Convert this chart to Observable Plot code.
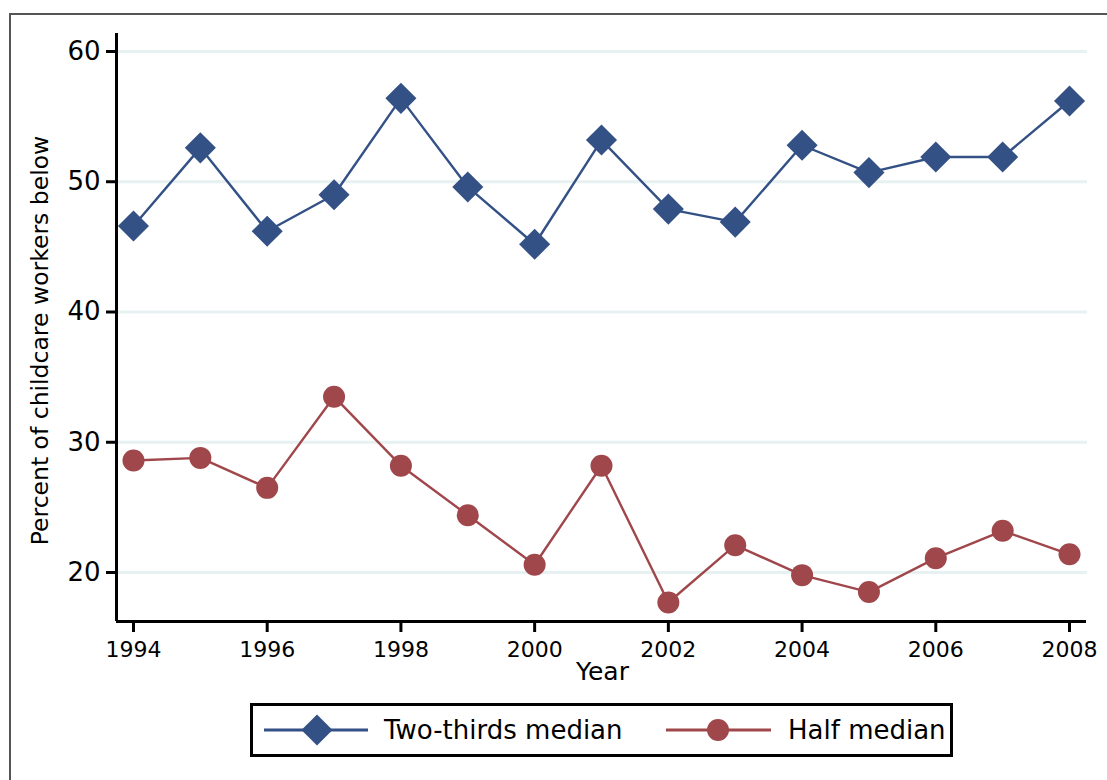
<!DOCTYPE html>
<html><head><meta charset="utf-8">
<script src="https://cdn.jsdelivr.net/npm/d3@7"></script>
<script src="https://cdn.jsdelivr.net/npm/@observablehq/plot@0.6"></script>
<style>
body{margin:0;background:#fff;}
#wrap{position:relative;width:1107px;height:780px;overflow:hidden;font-family:"DejaVu Sans",sans-serif;}
#frame{position:absolute;left:9px;top:13px;width:1110px;height:800px;border-top:2px solid #555;border-left:2px solid #555;}
#chart{position:absolute;left:0;top:0;}
#legend{position:absolute;left:250px;top:703px;width:697px;height:48px;border:3px solid #000;background:#fff;}
</style></head><body>
<div id="wrap"><div id="frame"></div><div id="chart"></div><div id="legend"></div></div>
<script>
const years = [1994,1995,1996,1997,1998,1999,2000,2001,2002,2003,2004,2005,2006,2007,2008];
const twoThirds = [46.6,52.6,46.2,49.0,56.4,49.6,45.2,53.2,47.9,46.9,52.8,50.7,51.9,51.9,56.2];
const half = [28.6,28.8,26.5,33.5,28.2,24.4,20.6,28.2,17.7,22.1,19.8,18.5,21.1,23.2,21.4];
const seriesNames = ["Two-thirds median","Half median"];
const seriesColors = ["#345186","#a0474b"];
const yTicks = [20,30,40,50,60];
const xTicks = [1994,1996,1998,2000,2002,2004,2006,2008];
const xLabel = "Year";
const yLabel = "Percent of childcare workers below";

const dataBlue = years.map((y,i)=>({year:y, value:twoThirds[i]}));
const dataRed = years.map((y,i)=>({year:y, value:half[i]}));
const xDomain = [1993.761, 2008.269];
const yDomain = [16.24, 61.38];

const chart = Plot.plot({
  width:1107, height:690,
  marginLeft:117, marginRight:20, marginTop:33, marginBottom:69,
  style:{background:"transparent", color:"#000", fontFamily:"DejaVu Sans, sans-serif", overflow:"visible"},
  x:{domain:xDomain},
  y:{domain:yDomain},
  marks:[
    Plot.ruleY(yTicks, {stroke:"#e8f1f1", strokeWidth:3}),
    Plot.ruleX([xDomain[0]], {stroke:"#000", strokeWidth:3, dx:-1}),
    Plot.ruleY([yDomain[0]], {stroke:"#000", strokeWidth:3, x1:xDomain[0], x2:xDomain[1], dx:-1}),
    Plot.axisY({ticks:yTicks, tickSize:11, tickPadding:6, strokeWidth:3, fontSize:26, label:null, anchor:"left"}),
    Plot.axisX({ticks:xTicks, tickSize:11, tickPadding:9, strokeWidth:3, fontSize:22, label:null, tickFormat:d=>String(d), anchor:"bottom"}),
    Plot.text([yLabel], {frameAnchor:"left", textAnchor:"middle", lineAnchor:"middle", rotate:-90, dx:-77, dy:13, fontSize:23.5, fill:"#000"}),
    Plot.text([xLabel], {frameAnchor:"bottom", textAnchor:"middle", lineAnchor:"bottom", dy:58, fontSize:25, fill:"#000"}),
    Plot.line(dataBlue, {x:"year", y:"value", stroke:seriesColors[0], strokeWidth:2.4}),
    Plot.line(dataRed, {x:"year", y:"value", stroke:seriesColors[1], strokeWidth:2.4}),
    Plot.dot(dataBlue, {x:"year", y:"value", symbol:"diamond2", r:14, fill:seriesColors[0], stroke:"none"}),
    Plot.dot(dataRed, {x:"year", y:"value", symbol:"circle", r:11, fill:seriesColors[1], stroke:"none"})
  ]
});
document.getElementById("chart").appendChild(chart);

// legend
const lg = d3.select("#legend").append("svg").attr("width",697).attr("height",48).style("display","block");
const items = [
  {name:seriesNames[0], color:seriesColors[0], x0:11, x1:115, cx:64, tx:131, sym:d3.symbolDiamond2, size:Math.PI*14*14},
  {name:seriesNames[1], color:seriesColors[1], x0:413, x1:518, cx:465, tx:535, sym:d3.symbolCircle, size:Math.PI*11*11}
];
const cy = 24;
items.forEach(it=>{
  lg.append("line").attr("x1",it.x0).attr("x2",it.x1).attr("y1",cy).attr("y2",cy).attr("stroke",it.color).attr("stroke-width",3);
  lg.append("path").attr("d",d3.symbol(it.sym,it.size)()).attr("transform",`translate(${it.cx},${cy})`).attr("fill",it.color);
  lg.append("text").attr("x",it.tx).attr("y",cy).attr("dy","0.36em").attr("font-size",26).attr("font-family","DejaVu Sans, sans-serif").attr("fill","#000").text(it.name);
});
</script>
</body></html>
